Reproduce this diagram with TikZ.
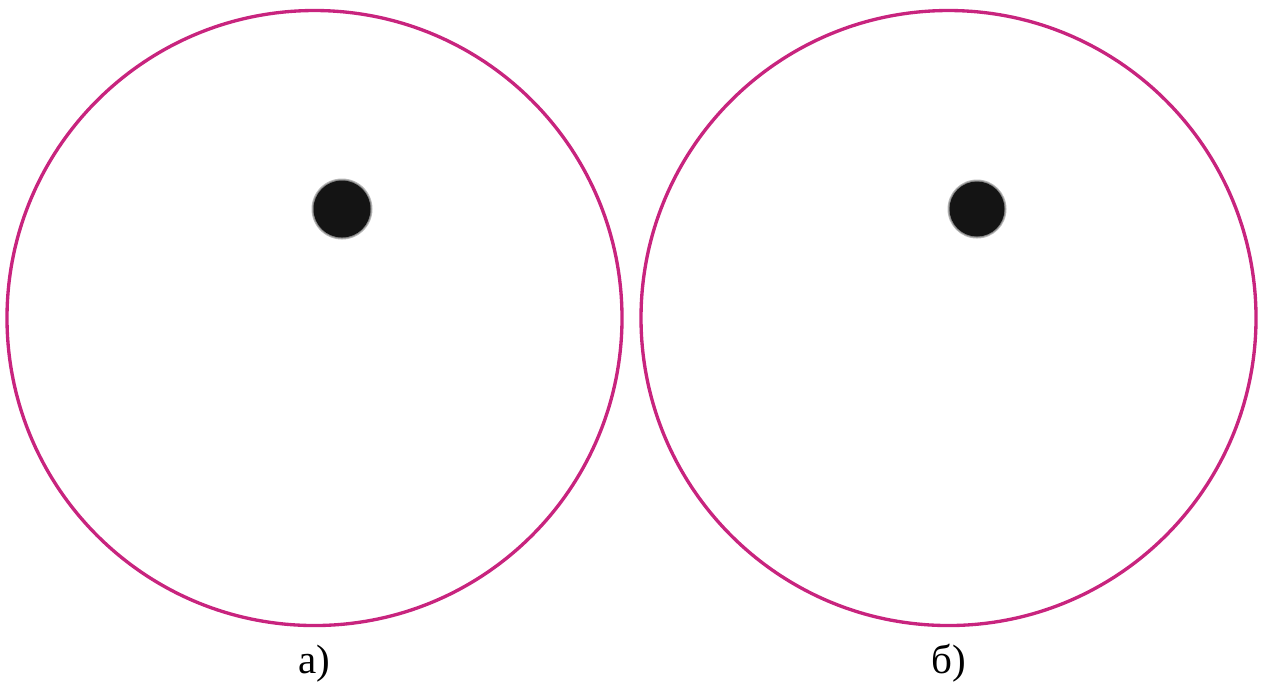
\documentclass[tikz,border=0pt]{standalone}
\usepackage{fontspec}
\newfontfamily\cyrfont{Liberation Serif}
\usepackage{xcolor}
\usetikzlibrary{positioning}
\definecolor{ringcol}{HTML}{C8247E}
\definecolor{spotcol}{HTML}{141414}
\tikzset{
  ring/.style    = {draw=ringcol, line width=1pt},
  spot/.style    = {fill=spotcol, draw=none},
  spothalo/.style = {fill=spotcol, draw=none, opacity=0.3},
  caption/.style = {font=\cyrfont\fontsize{12.3}{14}\selectfont, anchor=base},
}
\begin{document}
\begin{tikzpicture}[x=0.3pt, y=-0.3pt]
    \useasboundingbox (0,0) rectangle (1267,684);

    % two fields, each with its spot
    \foreach \cx/\sx/\sr/\lbl/\nm in {314.5/342/29/а)/a, 948.5/977/28/б)/b}
      {\draw[ring] (\cx,318) circle (307.5);
       \fill[spothalo] (\sx,209) circle (\sr+1.5);
       \fill[spothalo] (\sx,209) circle (\sr+0.5);
       \fill[spot] (\sx,209) circle (\sr-0.5);
       \node[caption] (lbl\nm) at (\cx,673) {\lbl};}
\end{tikzpicture}
\end{document}
